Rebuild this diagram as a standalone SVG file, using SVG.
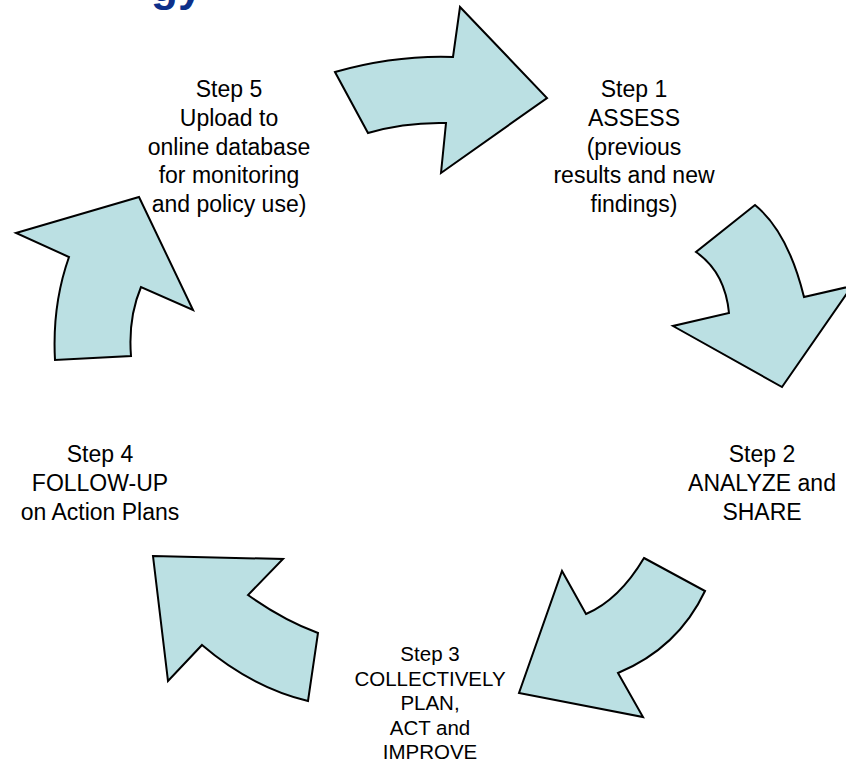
<svg xmlns="http://www.w3.org/2000/svg" width="846" height="762" viewBox="0 0 846 762">
<style>
.arrow{fill:#bbe0e3;stroke:#000;stroke-width:2;stroke-linejoin:miter}
.lbl{font-family:"Liberation Sans",Arial,sans-serif;font-size:23px;fill:#000;text-anchor:middle}
.lbl3{font-family:"Liberation Sans",Arial,sans-serif;font-size:20.5px;fill:#000;text-anchor:middle}
.title{font-family:"Liberation Sans",Arial,sans-serif;font-size:44px;font-weight:bold;fill:#0d2f8a}
</style>
<rect width="846" height="762" fill="#fff"/>
<text class="title" x="151" y="1">gy</text>
<g id="connectors">
<path class="arrow" d="M335,72 Q395,55 453,57 L460,7 L547,98 L441,173 L446,123 Q405,122 368,133 Z"/>
<path class="arrow" d="M755,205 Q788,232 804,297 L852,286 L782,387 L673,326 L729,313 Q725,272 696,252 Z"/>
<path class="arrow" d="M644,558 L705,591 Q678,648 618,673 L643,717 L519,693 L562,571 L586,614 Q619,600 644,558 Z"/>
<path class="arrow" d="M153,556 L283,559 L248,595 Q283,620 318,633 L308,701 Q251,687 202,645 L168,681 Z"/>
<path class="arrow" d="M139,197 L193,310 L141,287 Q128,318 131,356 L55,360 Q52,305 69,257 L16,233 Z"/>
</g>
<g id="step5">
<text class="lbl" x="229" y="97">Step 5</text>
<text class="lbl" x="229" y="126">Upload to</text>
<text class="lbl" x="229" y="154.5">online database</text>
<text class="lbl" x="229" y="183">for monitoring</text>
<text class="lbl" x="229" y="212">and policy use)</text>
</g>
<g id="step1">
<text class="lbl" x="634" y="97">Step 1</text>
<text class="lbl" x="634" y="126">ASSESS</text>
<text class="lbl" x="634" y="154.5">(previous</text>
<text class="lbl" x="634" y="183">results and new</text>
<text class="lbl" x="634" y="212">findings)</text>
</g>
<g id="step2">
<text class="lbl" x="762" y="462">Step 2</text>
<text class="lbl" x="762" y="491">ANALYZE and</text>
<text class="lbl" x="762" y="520">SHARE</text>
</g>
<g id="step3">
<text class="lbl3" x="430" y="661">Step 3</text>
<text class="lbl3" x="430" y="685.5">COLLECTIVELY</text>
<text class="lbl3" x="430" y="710">PLAN,</text>
<text class="lbl3" x="430" y="734.5">ACT and</text>
<text class="lbl3" x="430" y="759">IMPROVE</text>
</g>
<g id="step4">
<text class="lbl" x="100" y="462">Step 4</text>
<text class="lbl" x="100" y="491">FOLLOW-UP</text>
<text class="lbl" x="100" y="520">on Action Plans</text>
</g>
</svg>
